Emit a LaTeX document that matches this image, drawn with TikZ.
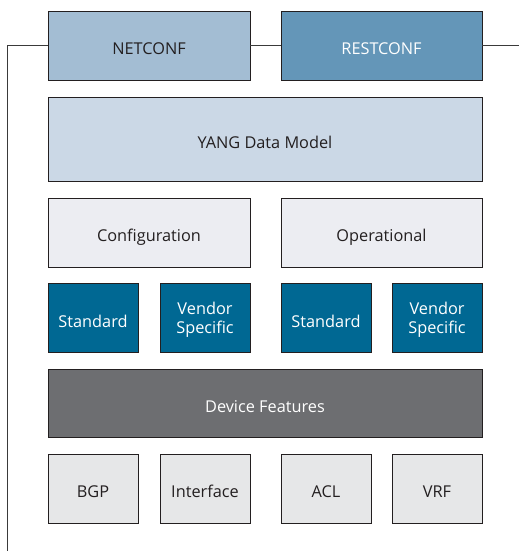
\documentclass[tikz,border=0pt]{standalone}
\usepackage{fontspec}
\setmainfont{Open Sans}
\definecolor{edge}{HTML}{231F20}
\definecolor{netc}{HTML}{A3BDD3}
\definecolor{restc}{HTML}{6496B8}
\definecolor{yang}{HTML}{CBD8E6}
\definecolor{conf}{HTML}{ECEDF2}
\definecolor{stdc}{HTML}{006893}
\definecolor{devf}{HTML}{6D6E71}
\definecolor{feat}{HTML}{E6E7E8}
\definecolor{txt}{HTML}{231F20}
\definecolor{wire}{HTML}{3A3A3A}
\begin{document}
\begin{tikzpicture}[x=1pt,y=-1pt,
  box/.style={draw=edge,line width=0.9pt,inner sep=0pt,align=center,
    font=\fontsize{16.3}{19}\selectfont,text=txt,text height=18.7pt,text depth=0pt},
  twoline/.style={text height=30.5pt,text depth=0pt},
  wire/.style={draw=wire,line width=1pt}]
\useasboundingbox (0,0) rectangle (519,551);
\node[box,fill=netc,minimum width=202,minimum height=69] (netconf) at (149,45.5) {NETCONF};
\node[box,fill=restc,text=white,minimum width=201,minimum height=69] (restconf) at (381.5,45.5) {RESTCONF};
\node[box,fill=yang,minimum width=434,minimum height=84] (yang) at (265,139) {YANG Data Model};
\node[box,fill=conf,minimum width=202,minimum height=69] (config) at (149,232.5) {Configuration};
\node[box,fill=conf,minimum width=201,minimum height=69] (oper) at (381.5,232.5) {Operational};
\node[box,fill=stdc,text=white,minimum width=90,minimum height=69] (std1) at (93,318) {Standard};
\node[box,twoline,fill=stdc,text=white,minimum width=90,minimum height=69] (ven1) at (205,318) {Vendor\\Specific};
\node[box,fill=stdc,text=white,minimum width=90,minimum height=69] (std2) at (326,318) {Standard};
\node[box,twoline,fill=stdc,text=white,minimum width=90,minimum height=69] (ven2) at (437,318) {Vendor\\Specific};
\node[box,fill=devf,text=white,minimum width=434,minimum height=68] (dev) at (265,403) {Device Features};
\node[box,fill=feat,minimum width=90,minimum height=69] (bgp) at (93,488.5) {BGP};
\node[box,fill=feat,minimum width=90,minimum height=69] (intf) at (205,488.5) {Interface};
\node[box,fill=feat,minimum width=90,minimum height=69] (acl) at (326,488.5) {ACL};
\node[box,fill=feat,minimum width=90,minimum height=69] (vrf) at (437,488.5) {VRF};
\coordinate (lowend) at (7,551);
\coordinate (rightend) at (519,45.5);
\draw[wire] (lowend) |- (netconf.west);
\draw[wire] (netconf.east) -- (restconf.west);
\draw[wire] (restconf.east) -- (rightend);
\end{tikzpicture}
\end{document}
